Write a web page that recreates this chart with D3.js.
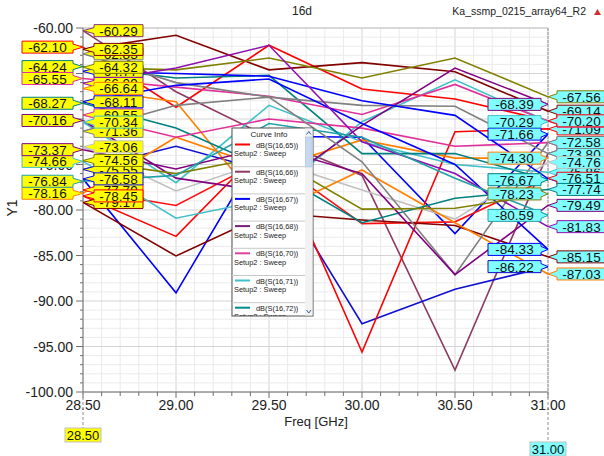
<!DOCTYPE html>
<html>
<head>
<meta charset="utf-8">
<script src="https://cdn.jsdelivr.net/npm/d3@7"></script>
<style>
  html, body { margin: 0; padding: 0; background: #fff; }
  svg { display: block; font-family: "Liberation Sans", Arial, sans-serif; }
</style>
</head>
<body>
<svg id="chart" width="604" height="456"></svg>
<script>
/* HFSS style S-parameter sweep plot, "16d". */

const FREQS = [28.5, 29.0, 29.5, 30.0, 30.5, 31.0];

// one row per trace: dB values at FREQS
const SERIES = [
  [-62.10, -68.7, -61.9, -66.7, -67.8, -70.20],
  [-62.35, -60.8, -64.6, -63.8, -64.8, -69.14],
  [-64.32, -64.6, -63.3, -65.5, -63.3, -67.56],
  [-60.29, -67.0, -72.0, -76.2, -97.6, -73.78],
  [-76.58, -89.1, -71.9, -72.0, -82.6, -71.66],
  [-75.55, -73.0, -75.8, -92.5, -88.7, -86.22],
  [-78.45, -82.9, -72.5, -95.6, -71.4, -71.09],
  [-77.79, -79.5, -74.2, -81.5, -81.3, -76.51],
  [-79.17, -85.05, -80.3, -81.1, -81.7, -85.15],
  [-74.66, -80.9, -78.8, -70.3, -65.7, -70.29],
  [-73.06, -77.9, -74.5, -77.8, -81.0, -74.76],
  [-70.34, -77.0, -68.5, -72.5, -75.0, -75.86],
  [-66.64, -68.1, -80.5, -75.6, -81.4, -87.03],
  [-78.16, -72.0, -75.5, -72.3, -74.3, -74.30],
  [-64.24, -65.5, -65.2, -73.8, -73.8, -76.67],
  [-68.27, -71.0, -75.5, -81.4, -78.7, -77.74],
  [-65.55, -66.5, -67.5, -69.5, -66.2, -70.24],
  [-69.55, -72.0, -70.0, -71.0, -73.0, -72.60],
  [-70.16, -76.5, -78.0, -70.7, -64.4, -68.39],
  [-71.36, -68.5, -67.6, -74.7, -87.1, -72.58],
  [-62.83, -66.0, -67.6, -68.5, -68.6, -73.80],
  [-73.37, -75.5, -73.0, -76.0, -87.1, -79.49],
  [-68.11, -66.3, -65.6, -70.5, -75.0, -84.33],
  [-64.77, -65.0, -65.3, -68.0, -69.6, -76.55],
  [-66.09, -64.4, -61.9, -72.5, -76.0, -81.83],
  [-74.56, -76.0, -74.0, -79.9, -79.8, -78.23],
  [-76.84, -76.2, -70.5, -72.0, -76.5, -80.59]
];

const SERIES_COLORS = [
  "#ff0000", "#800000", "#808000", "#8b3a62", "#0000ff", "#1010d0",
  "#ff0000", "#ff1010", "#800000", "#40c0c8", "#c0c0c0", "#40c0c8",
  "#ff8000", "#ff8000", "#008080", "#008080", "#e0309a", "#e0309a",
  "#800080", "#808080", "#808080", "#800080", "#0000ff", "#0000ff",
  "#9010b0", "#808000", "#20a0a8"
];

// marker label placement (which column each end value sits in)
const LEFT_OUTER = [-62.10, -64.24, -65.55, -68.27, -70.16, -73.37, -74.66, -76.84, -78.16];
const LEFT_BACK = [-62.83, -64.77, -66.09, -69.55, -71.36, -75.55, -77.79, -79.17];
const RIGHT_INNER = [-68.39, -70.29, -71.66, -74.30, -76.67, -78.23, -80.59, -84.33, -86.22];
const RIGHT_BACK = [-69.14, -71.09, -73.78, -75.86, -70.24, -76.55, -72.60, -73.80];

const Y_TICKS = [-60, -65, -70, -75, -80, -85, -90, -95, -100];
const X_TICKS = [28.5, 29.0, 29.5, 30.0, 30.5, 31.0];

const LEGEND_NAMES = ["dB(S(16,65))", "dB(S(16,66))", "dB(S(16,67))", "dB(S(16,68))",
  "dB(S(16,70))", "dB(S(16,71))", "dB(S(16,72))"];
const LEGEND_COLORS = ["#ff0000", "#8b3a62", "#0000ff", "#7a1f7a", "#e0409a", "#40c0c8", "#008b8b"];

(function () {
  "use strict";

  const L = 83, R = 548, T = 28, B = 392;
  const svg = d3.select("#chart");

  const x = d3.scaleLinear().domain([28.5, 31]).range([L, R]);
  const y = d3.scaleLinear().domain([-100, -60]).range([B, T]);

  // grid: 0.1 GHz / 1 dB minor, 0.5 GHz / 5 dB major
  const grid = svg.append("g");
  const xMinor = d3.range(0, 26).map((i) => 28.5 + i * 0.1);
  const yMinor = d3.range(0, 41).map((i) => -100 + i);
  grid.selectAll("line.gx")
    .data(xMinor)
    .join("line")
    .attr("x1", (d) => x(d)).attr("x2", (d) => x(d))
    .attr("y1", T).attr("y2", B)
    .attr("stroke", (d, i) => (i % 5 === 0 ? "#d4d4d4" : "#ebebeb"))
    .attr("stroke-width", 1);
  grid.selectAll("line.gy")
    .data(yMinor)
    .join("line")
    .attr("x1", L).attr("x2", R)
    .attr("y1", (d) => y(d)).attr("y2", (d) => y(d))
    .attr("stroke", (d, i) => (i % 5 === 0 ? "#d4d4d4" : "#ebebeb"))
    .attr("stroke-width", 1);

  // frame
  svg.append("line").attr("x1", L).attr("x2", R).attr("y1", T).attr("y2", T).attr("stroke", "#c8c8c8");
  svg.append("line").attr("x1", R).attr("x2", R).attr("y1", T).attr("y2", B)
    .attr("stroke", "#909090").attr("stroke-dasharray", "3,1");

  // traces
  const plot = svg.append("g");
  svg.append("clipPath").attr("id", "clip").append("rect")
    .attr("x", L).attr("y", T).attr("width", R - L).attr("height", B - T);
  plot.attr("clip-path", "url(#clip)");
  const line = d3.line().x((d, i) => x(FREQS[i])).y((d) => y(d));
  plot.selectAll("path.trace")
    .data(SERIES)
    .join("path")
    .attr("class", "trace")
    .attr("fill", "none")
    .attr("stroke", (d, i) => SERIES_COLORS[i])
    .attr("stroke-width", 1.6)
    .attr("d", line);

  // axes
  const yAxis = svg.append("g");
  yAxis.append("line").attr("x1", L).attr("x2", L).attr("y1", T).attr("y2", B).attr("stroke", "#707070");
  yAxis.selectAll("line.mt")
    .data(yMinor)
    .join("line")
    .attr("x1", (d, i) => (i % 5 === 0 ? L - 7 : L - 3)).attr("x2", L)
    .attr("y1", (d) => y(d)).attr("y2", (d) => y(d))
    .attr("stroke", "#707070");
  yAxis.selectAll("text")
    .data(Y_TICKS)
    .join("text")
    .attr("x", 73)
    .attr("y", (d) => y(d) + 5)
    .attr("text-anchor", "end")
    .attr("font-size", 14)
    .attr("fill", "#222")
    .text((d) => d.toFixed(2));

  const xAxis = svg.append("g");
  xAxis.append("line").attr("x1", L).attr("x2", R).attr("y1", B).attr("y2", B).attr("stroke", "#707070");
  xAxis.selectAll("line.mt")
    .data(xMinor)
    .join("line")
    .attr("x1", (d) => x(d)).attr("x2", (d) => x(d))
    .attr("y1", B).attr("y2", (d, i) => (i % 5 === 0 ? B + 6 : B + 4))
    .attr("stroke", "#707070");
  xAxis.selectAll("text")
    .data(X_TICKS)
    .join("text")
    .attr("x", (d) => x(d))
    .attr("y", 410)
    .attr("text-anchor", "middle")
    .attr("font-size", 14)
    .attr("fill", "#222")
    .text((d) => d.toFixed(2));

  svg.append("text").attr("x", 316).attr("y", 426).attr("text-anchor", "middle")
    .attr("font-size", 13).attr("fill", "#222").text("Freq [GHz]");
  svg.append("text").attr("transform", "translate(17,208) rotate(-90)").attr("text-anchor", "middle")
    .attr("font-size", 14).attr("fill", "#222").text("Y1");

  svg.append("text").attr("x", 302).attr("y", 15).attr("text-anchor", "middle")
    .attr("font-size", 12).attr("fill", "#222").text("16d");
  svg.append("text").attr("x", 586).attr("y", 15).attr("text-anchor", "end")
    .attr("font-size", 10.5).attr("fill", "#222").text("Ka_ssmp_0215_array64_R2");
  svg.append("path").attr("d", "M594,15 L597.5,9 L601,15 Z").attr("fill", "#d03030");

  // sweep markers at both ends
  function markerPath(v, tip, x1, x2, side) {
    const c = y(v);
    const e = side === "right" ? x2 : x1;
    const o = side === "right" ? x1 : x2;
    return `M${o},${c - 6} H${e} V${c - 3} L${tip},${c} L${e},${c + 3} V${c + 6} H${o} Z`;
  }

  const marks = [];
  SERIES.forEach((s, i) => {
    const lv = s[0], rv = s[s.length - 1];
    const lo = LEFT_OUTER.includes(lv);
    marks.push({
      v: lv, color: SERIES_COLORS[i], fill: "#ffff00",
      x1: lo ? 22 : 94, x2: lo ? 73 : 143, tip: L, side: lo ? "right" : "left",
      back: LEFT_BACK.includes(lv)
    });
    const ri = RIGHT_INNER.includes(rv);
    marks.push({
      v: rv, color: SERIES_COLORS[i], fill: "#7fffff",
      x1: ri ? 488 : 557, x2: ri ? 541 : 610, tip: R, side: ri ? "right" : "left",
      back: RIGHT_BACK.includes(rv)
    });
  });
  marks.sort((a, b) => (b.back ? 1 : 0) - (a.back ? 1 : 0));

  const mg = svg.append("g").selectAll("g").data(marks).join("g");
  mg.append("path")
    .attr("d", (d) => markerPath(d.v, d.tip, d.x1, d.x2, d.side))
    .attr("fill", (d) => d.fill)
    .attr("stroke", (d) => d.color)
    .attr("stroke-width", 1);
  mg.append("text")
    .attr("x", (d) => (d.x1 + Math.min(d.x2, 604)) / 2 + (d.x2 > 604 ? 1 : 0))
    .attr("y", (d) => y(d.v) + 5)
    .attr("text-anchor", "middle")
    .attr("font-size", 13.5)
    .attr("fill", "#111")
    .text((d) => d.v.toFixed(2));

  // frequency markers under the axis
  const fm = [
    { f: 28.5, fill: "#ffff00", top: 428 },
    { f: 31.0, fill: "#7fffff", top: 442 }
  ];
  const fg = svg.append("g").selectAll("g").data(fm).join("g");
  fg.append("line")
    .attr("x1", (d) => x(d.f)).attr("x2", (d) => x(d.f))
    .attr("y1", B).attr("y2", (d) => d.top)
    .attr("stroke", "#909090").attr("stroke-dasharray", "3,2");
  fg.append("rect")
    .attr("x", (d) => x(d.f) - 18).attr("y", (d) => d.top)
    .attr("width", 36).attr("height", 14)
    .attr("fill", (d) => d.fill).attr("stroke", "#c0c0c0");
  fg.append("text")
    .attr("x", (d) => x(d.f)).attr("y", (d) => d.top + 11.5)
    .attr("text-anchor", "middle").attr("font-size", 13).attr("fill", "#111")
    .text((d) => d.f.toFixed(2));

  // Curve Info legend
  const LX = 232, LY = 128, LW = 81, LH = 188;
  const lg = svg.append("g");
  svg.append("clipPath").attr("id", "lclip").append("rect")
    .attr("x", LX).attr("y", LY).attr("width", LW).attr("height", LH);
  lg.append("rect").attr("x", LX).attr("y", LY).attr("width", LW).attr("height", LH)
    .attr("fill", "#fff").attr("stroke", "#505050");
  const inner = lg.append("g").attr("clip-path", "url(#lclip)");
  inner.append("text").attr("x", 269).attr("y", 137).attr("text-anchor", "middle")
    .attr("font-size", 8).attr("fill", "#222").text("Curve Info");
  const ent = inner.selectAll("g.ent").data(LEGEND_NAMES).join("g")
    .attr("transform", (d, i) => `translate(0,${i * 27.2})`);
  ent.append("line").attr("x1", 235).attr("x2", 250).attr("y1", 144.5).attr("y2", 144.5)
    .attr("stroke", (d, i) => LEGEND_COLORS[i]).attr("stroke-width", 2);
  ent.append("text").attr("x", 256).attr("y", 147.5).attr("font-size", 7.4).attr("fill", "#222")
    .text((d) => d);
  ent.append("text").attr("x", 234).attr("y", 156).attr("font-size", 7.4).attr("fill", "#222")
    .text("Setup2 : Sweep");
  ent.append("line").attr("x1", LX).attr("x2", 305).attr("y1", 166.7).attr("y2", 166.7)
    .attr("stroke", "#c8c8c8");
  // scrollbar
  lg.append("rect").attr("x", 305).attr("y", LY + 0.5).attr("width", 7.5).attr("height", LH - 1)
    .attr("fill", "#f2f2f2");
  lg.append("rect").attr("x", 305.5).attr("y", 137).attr("width", 6.5).attr("height", 30)
    .attr("fill", "#c6d8f0").attr("stroke", "#a8c0e0").attr("stroke-width", 0.6);
  lg.append("path").attr("d", "M306.5,134.5 L308.8,131.5 L311,134.5").attr("fill", "none")
    .attr("stroke", "#3060b0").attr("stroke-width", 1);
  lg.append("path").attr("d", "M306.5,310 L308.8,313 L311,310").attr("fill", "none")
    .attr("stroke", "#3060b0").attr("stroke-width", 1);
})();
</script>
</body>
</html>
